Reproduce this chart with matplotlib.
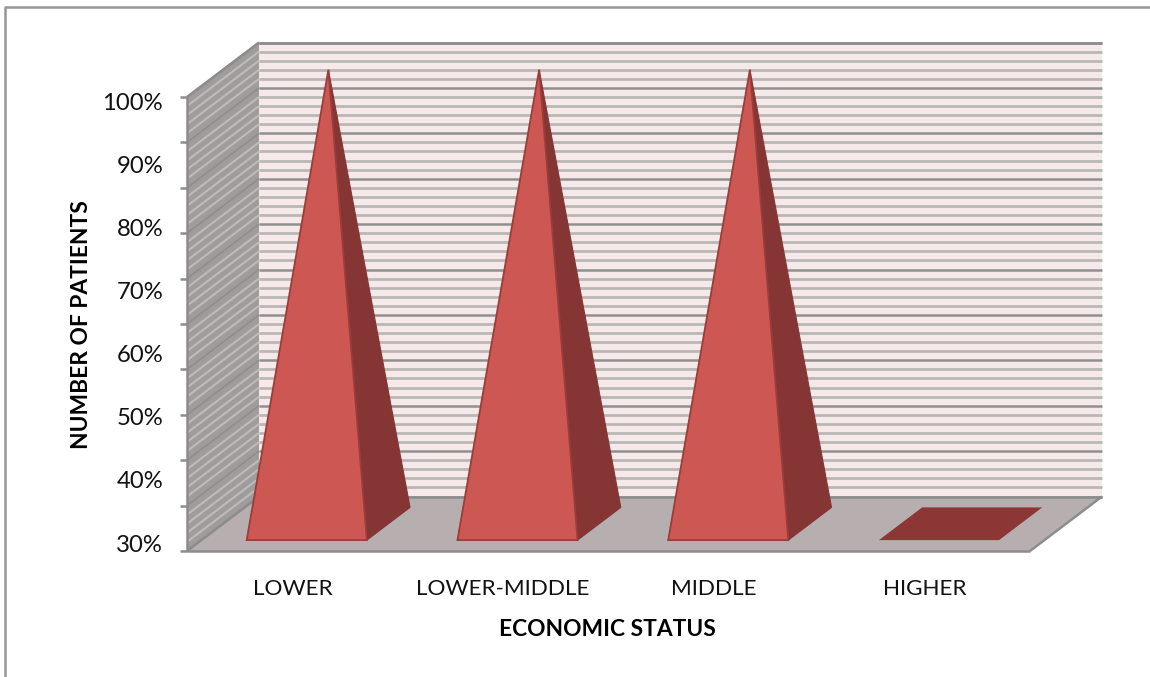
import matplotlib
matplotlib.use("Agg")
import matplotlib.pyplot as plt
from matplotlib.patches import Polygon

plt.rcParams['font.family'] = ['Lato', 'DejaVu Sans']

categories = ["LOWER", "LOWER-MIDDLE", "MIDDLE", "HIGHER"]
values = [100, 100, 100, 30]
tick_labels = ["30%", "40%", "50%", "60%", "70%", "80%", "90%", "100%"]
tick_values = [30, 40, 50, 60, 70, 80, 90, 100]

# box of the fake 3D chart, in image pixels
x0, x1 = 187, 1030
y_floor, y_top = 551, 97
dx, dy = 72, -54.5
vmin, vmax = 30, 100
bar_width = 0.57


def project(cat, depth, val):
    # cat in category units, depth 0 (front) to 1 (back)
    x = x0 + (x1 - x0) * cat / len(categories) + dx * depth
    y = y_floor + (y_top - y_floor) * (val - vmin) / (vmax - vmin) + dy * depth
    return x, y


def face(ax, pts, **kw):
    ax.add_patch(Polygon([project(*p) for p in pts], closed=True, **kw))


fig = plt.figure(figsize=(11.5, 6.77), dpi=100)
ax = fig.add_axes([0, 0, 1, 1])
ax.set_xlim(0, 1150)
ax.set_ylim(677, 0)
ax.axis("off")

# outer frame
ax.plot([5, 5, 1150], [677, 6.5, 6.5], color="#969696", lw=1.8)

n = len(categories)
# walls and floor
face(ax, [(0, 1, vmin), (n, 1, vmin), (n, 1, vmax), (0, 1, vmax)], fc="#f5e9e9", ec="none")
face(ax, [(0, 0, vmin), (0, 1, vmin), (0, 1, vmax), (0, 0, vmax)], fc="#a09c9b", ec="none")

# gridlines, every 10 units with 5 minor steps
n_major = 10
step = (vmax - vmin) / n_major
for i in range(n_major * 5 + 1):
    v = vmin + i * step / 5
    major = i % 5 == 0
    xs, ys = zip(project(0, 0, v), project(0, 1, v), project(n, 1, v))
    ax.plot(xs[1:], ys[1:], color="#8f8f8f" if major else "#bab7b5", lw=1.8 if major else 2.0,
            zorder=2, solid_capstyle="butt")
    ax.plot(xs[:2], ys[:2], color="#8e8e8c" if major else "#bebbba", lw=1.2 if major else 1.5,
            zorder=2, solid_capstyle="butt")

face(ax, [(0, 0, vmin), (n, 0, vmin), (n, 1, vmin), (0, 1, vmin)], fc="#b7afaf", ec="none", zorder=3)

# box edges
for a, b in [((0, 0, vmin), (0, 0, vmax)), ((0, 0, vmin), (n, 0, vmin)), ((n, 0, vmin), (n, 1, vmin)),
             ((0, 0, vmax), (0, 1, vmax)), ((0, 1, vmax), (n, 1, vmax)), ((0, 1, vmin), (n, 1, vmin)),
             ((0, 0, vmin), (0, 1, vmin))]:
    pa, pb = project(*a), project(*b)
    ax.plot([pa[0], pb[0]], [pa[1], pb[1]], color="#8c8c8c", lw=1.8, zorder=4, solid_capstyle="butt")

# tick marks on the front edge
for i in range(n_major + 1):
    px, py = project(0, 0, vmin + i * step)
    ax.plot([px - 7, px], [py, py], color="#8c8c8c", lw=1.8, zorder=4, solid_capstyle="butt")

# pyramids
for i, val in enumerate(values):
    left = i + 0.5 - bar_width / 2
    right = i + 0.5 + bar_width / 2
    mid = i + 0.5
    if val <= vmin:
        face(ax, [(left, 0.2, vmin), (right, 0.2, vmin), (right, 0.8, vmin), (left, 0.8, vmin)],
             fc="#8c3736", ec="none", zorder=5)
    else:
        face(ax, [(right, 0.2, vmin), (right, 0.8, vmin), (mid, 0.5, val)],
             fc="#843534", ec="#843534", lw=0.8, zorder=5)
        face(ax, [(left, 0.2, vmin), (right, 0.2, vmin), (mid, 0.5, val)],
             fc="#cd5753", ec="#9b3d3a", lw=1.3, zorder=6)

# value labels are spaced on their own in the reference, not on the ticks
label_bottom, label_top = 545, 103
for k, lab in enumerate(tick_labels):
    frac = (tick_values[k] - vmin) / (vmax - vmin)
    ax.text(163, label_bottom + (label_top - label_bottom) * frac, lab, ha="right", va="center",
            fontsize=17.2, color="#111111")

for i, cat in enumerate(categories):
    ax.text(x0 + (x1 - x0) * (i + 0.5) / n, 589, cat, ha="center", va="center", fontsize=16.2, color="#111111")

ax.text(607, 630, "ECONOMIC STATUS", ha="center", va="center", fontsize=16.4, fontweight="bold", color="black")
ax.text(81, 325, "NUMBER OF PATIENTS", ha="center", va="center", rotation=90, fontsize=16.4,
        fontweight="bold", color="black")

fig.savefig("out.png", dpi=100)
